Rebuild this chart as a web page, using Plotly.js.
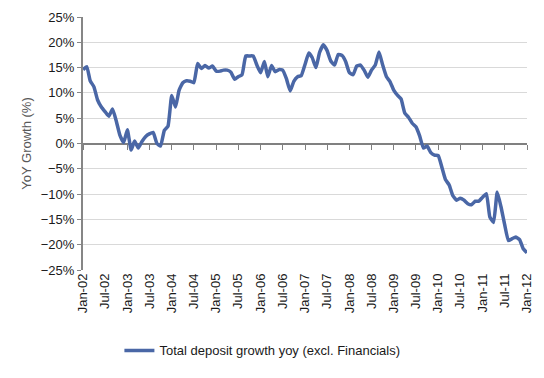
<!DOCTYPE html>
<html>
<head>
<meta charset="utf-8">
<script src="https://cdn.plot.ly/plotly-3.0.1.min.js"></script>
<style>html,body{margin:0;padding:0;background:#fff;}#chart{width:544px;height:378px;}</style>
</head>
<body>
<div id="chart"></div>
<script>
// Monthly YoY growth (%), Jan-02 .. Jan-12 (121 months)
var growth2002 = [14.6, 15.2, 12.4, 11.2, 8.6, 7.2, 6.3, 5.4, 6.8, 4.5, 1.6, 0.2];
var growth2003 = [2.7, -1.3, 0.5, -0.9, 0.4, 1.4, 1.9, 2.2, 0.0, -0.5, 2.6, 3.4];
var growth2004 = [9.5, 7.2, 10.5, 12.0, 12.4, 12.3, 12.0, 15.8, 14.8, 15.4, 14.9, 15.3];
var growth2005 = [14.3, 14.3, 14.5, 14.5, 14.1, 12.7, 13.2, 13.6, 17.3, 17.3, 17.3, 15.5];
var growth2006 = [14.0, 16.2, 13.2, 15.4, 14.2, 14.6, 14.5, 12.8, 10.4, 12.3, 13.2, 13.4];
var growth2007 = [15.6, 17.9, 17.0, 15.0, 18.0, 19.5, 18.4, 16.3, 15.5, 17.6, 17.4, 16.2];
var growth2008 = [14.0, 13.6, 15.3, 15.5, 14.5, 13.1, 14.5, 15.5, 18.1, 15.5, 13.2, 12.2];
var growth2009 = [10.5, 9.5, 8.8, 6.0, 5.2, 4.0, 3.3, 1.5, -0.9, -0.5, -1.8, -2.3];
var growth2010 = [-2.4, -4.8, -7.1, -8.2, -10.3, -11.2, -10.8, -11.2, -11.9, -12.1, -11.4, -11.4];
var growth2011 = [-10.6, -9.9, -14.5, -15.6, -9.6, -12.5, -16.0, -19.2, -18.8, -18.5, -19.0, -20.8];
var growth2012 = [-21.6];

var startYears = [2002, 2003, 2004, 2005, 2006, 2007, 2008, 2009, 2010, 2011, 2012];
var tickDates = ["2002-01-01","2002-07-01","2003-01-01","2003-07-01","2004-01-01","2004-07-01",
  "2005-01-01","2005-07-01","2006-01-01","2006-07-01","2007-01-01","2007-07-01","2008-01-01",
  "2008-07-01","2009-01-01","2009-07-01","2010-01-01","2010-07-01","2011-01-01","2011-07-01","2012-01-01"];
var tickLabels = ["Jan-02","Jul-02","Jan-03","Jul-03","Jan-04","Jul-04","Jan-05","Jul-05","Jan-06",
  "Jul-06","Jan-07","Jul-07","Jan-08","Jul-08","Jan-09","Jul-09","Jan-10","Jul-10","Jan-11","Jul-11","Jan-12"];
var seriesName = "Total deposit growth yoy (excl. Financials)";
var yTitle = "YoY Growth (%)";

var yearly = [growth2002, growth2003, growth2004, growth2005, growth2006, growth2007,
  growth2008, growth2009, growth2010, growth2011, growth2012];
var xs = [], ys = [];
yearly.forEach(function (arr, i) {
  arr.forEach(function (v, m) {
    var mm = (m + 1 < 10 ? "0" : "") + (m + 1);
    xs.push(startYears[i] + "-" + mm + "-01");
    ys.push(v);
  });
});

var xRange = ["2002-01-01", "2012-01-01"];
var font = {family: "Liberation Sans, Arial, sans-serif", size: 13, color: "#1a1a1a"};

var trace = {
  x: xs, y: ys, type: "scatter", mode: "lines", name: seriesName,
  line: {color: "#4a67a6", width: 3.5, shape: "spline", smoothing: 0.4}
};
// invisible helper so the tick-mark axis on the 0% line is drawn
var tickHelper = {
  x: [xRange[0], xRange[1]], y: [0, 0], xaxis: "x2", yaxis: "y", type: "scatter", mode: "lines",
  line: {color: "rgba(0,0,0,0)", width: 0}, showlegend: false, hoverinfo: "skip"
};

var layout = {
  width: 544, height: 378,
  margin: {l: 83, r: 17, t: 17, b: 106},
  paper_bgcolor: "#ffffff", plot_bgcolor: "#ffffff",
  font: font,
  showlegend: true,
  legend: {orientation: "h", x: 0.082, xanchor: "left", y: -0.318, yanchor: "middle",
    font: {family: font.family, size: 13, color: "#1a1a1a"}, bgcolor: "rgba(0,0,0,0)"},
  xaxis: {
    type: "date", range: xRange, tickmode: "array", tickvals: tickDates, ticktext: tickLabels,
    tickangle: -90, showgrid: false, zeroline: false, showline: false, ticks: "",
    tickfont: font, fixedrange: true
  },
  xaxis2: {
    type: "date", range: xRange, overlaying: "x", anchor: "free", position: 0.5, side: "bottom",
    tickmode: "array", tickvals: tickDates, ticktext: tickLabels, showticklabels: false,
    ticks: "outside", ticklen: 5, tickwidth: 1, tickcolor: "#7f7f7f",
    showline: true, linecolor: "#808080", linewidth: 2, showgrid: false, zeroline: false,
    layer: "below traces"
  },
  yaxis: {
    range: [-25, 25], dtick: 5, tick0: 0, ticksuffix: "%",
    showgrid: true, gridcolor: "#d9d9d9", gridwidth: 1,
    zeroline: false,
    showline: true, linecolor: "#868686", linewidth: 2,
    ticks: "outside", ticklen: 4, tickcolor: "#868686",
    tickfont: font,
    title: {text: yTitle, font: {family: font.family, size: 13, color: "#595959"}, standoff: 6},
    layer: "below traces"
  }
};

Plotly.newPlot("chart", [trace, tickHelper], layout, {staticPlot: true, displayModeBar: false});
</script>
</body>
</html>
